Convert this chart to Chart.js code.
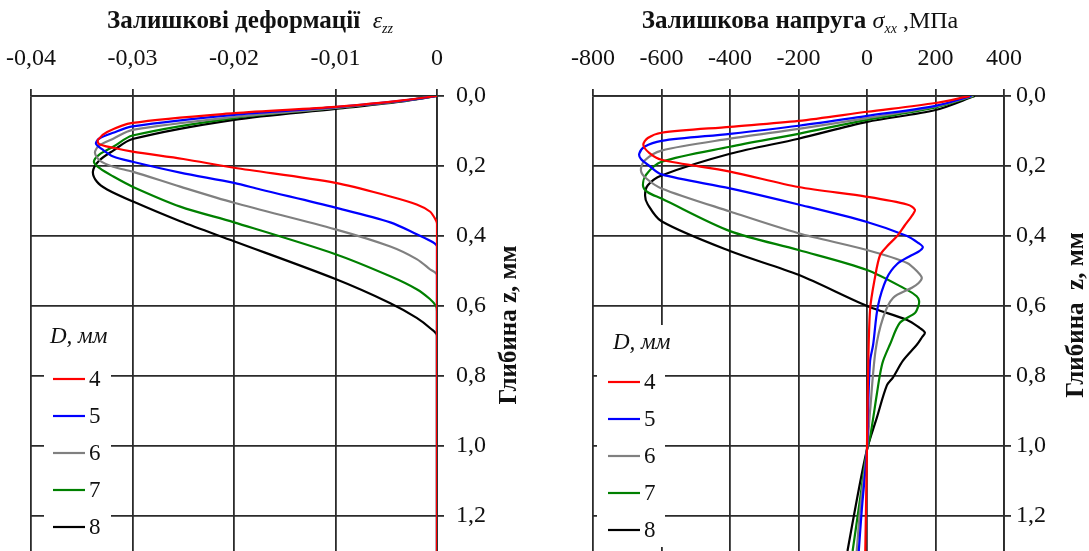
<!DOCTYPE html>
<html>
<head>
<meta charset="utf-8">
<script src="https://cdn.jsdelivr.net/npm/chart.js@4.4.1/dist/chart.umd.min.js"></script>
<style>
    body { margin: 0; background: #fff; }
    #wrap { position: relative; width: 1089px; height: 551px; overflow: hidden; }
    .panel { position: absolute; top: 0; height: 551px; }
</style>
</head>
<body>
<div id="wrap">
    <div class="panel" style="left:0;width:545px"><canvas id="strainChart"></canvas></div>
    <div class="panel" style="left:545px;width:544px"><canvas id="stressChart"></canvas></div>
</div>
<script>
// Ball diameters D, mm, and line colours
const diameters = ['4', '5', '6', '7', '8'];
const colors = ['#ff0000', '#0000ff', '#808080', '#008000', '#000000'];

// Residual strain eps_zz vs depth z (mm): [z, eps]
const eps4 = [[0, 0], [0.013, -0.0036], [0.031, -0.01], [0.049, -0.02], [0.077, -0.03], [0.103, -0.0325], [0.125, -0.0334], [0.137, -0.0333], [0.148, -0.0319], [0.159, -0.03], [0.18, -0.025], [0.205, -0.02], [0.248, -0.01], [0.287, -0.0046], [0.31, -0.002], [0.33, -0.0007], [0.35, -0.0002], [0.365, 0], [1.3, 0]];
const eps5 = [[0, 0], [0.014, -0.0036], [0.032, -0.01], [0.054, -0.02], [0.087, -0.03], [0.105, -0.0319], [0.122, -0.0333], [0.136, -0.0336], [0.152, -0.033], [0.173, -0.0319], [0.188, -0.03], [0.219, -0.0253], [0.248, -0.02], [0.267, -0.0174], [0.319, -0.01], [0.361, -0.0046], [0.395, -0.002], [0.418, -0.0004], [0.43, 0], [1.3, 0]];
const eps6 = [[0, 0], [0.015, -0.0036], [0.034, -0.01], [0.06, -0.02], [0.097, -0.03], [0.122, -0.0319], [0.142, -0.0333], [0.162, -0.0337], [0.185, -0.0332], [0.202, -0.0319], [0.216, -0.03], [0.259, -0.0253], [0.305, -0.02], [0.381, -0.01], [0.43, -0.0046], [0.466, -0.002], [0.495, -0.0007], [0.512, 0], [1.3, 0]];
const eps7 = [[0, 0], [0.015, -0.0036], [0.034, -0.01], [0.063, -0.02], [0.113, -0.03], [0.145, -0.0319], [0.168, -0.0333], [0.188, -0.0338], [0.207, -0.0332], [0.23, -0.0319], [0.259, -0.03], [0.316, -0.0253], [0.361, -0.02], [0.452, -0.01], [0.515, -0.0046], [0.552, -0.002], [0.58, -0.0007], [0.6, -0.0001], [0.615, 0], [1.3, 0]];
const eps8 = [[0, 0], [0.016, -0.0036], [0.037, -0.01], [0.068, -0.02], [0.123, -0.03], [0.156, -0.0319], [0.185, -0.0333], [0.216, -0.0339], [0.245, -0.0335], [0.267, -0.0325], [0.301, -0.03], [0.358, -0.0253], [0.415, -0.02], [0.523, -0.01], [0.592, -0.0046], [0.634, -0.002], [0.665, -0.0006], [0.685, 0], [1.3, 0]];

// Residual stress sigma_xx (MPa) vs depth z (mm): [z, sigma]
const sig4 = [[0, 300], [0.02, 200], [0.045, 0], [0.071, -200], [0.088, -400], [0.105, -600], [0.12, -640], [0.14, -653], [0.163, -635], [0.182, -600], [0.216, -400], [0.26, -200], [0.288, 0], [0.31, 117], [0.325, 140], [0.338, 134], [0.37, 110], [0.4, 88], [0.43, 58], [0.455, 38], [0.52, 23], [0.61, 9], [0.8, 3], [1.0, 0], [1.3, -5]];
const sig5 = [[0, 305], [0.028, 200], [0.057, 0], [0.085, -200], [0.108, -400], [0.128, -600], [0.145, -650], [0.165, -665], [0.18, -660], [0.2, -635], [0.224, -600], [0.264, -400], [0.31, -200], [0.36, 0], [0.4, 117], [0.42, 150], [0.432, 163], [0.445, 150], [0.457, 126], [0.48, 88], [0.52, 58], [0.6, 32], [0.71, 18], [0.757, 9], [0.9, 3], [1.01, 0], [1.18, -15], [1.3, -24]];
const sig6 = [[0, 310], [0.03, 200], [0.063, 0], [0.094, -200], [0.122, -400], [0.156, -600], [0.185, -650], [0.213, -660], [0.235, -645], [0.264, -600], [0.33, -400], [0.392, -200], [0.44, 0], [0.477, 117], [0.505, 150], [0.52, 160], [0.535, 150], [0.548, 131], [0.577, 76], [0.633, 47], [0.727, 25], [0.9, 9], [1.01, 0], [1.18, -20], [1.3, -30]];
const sig7 = [[0, 312], [0.033, 200], [0.068, 0], [0.108, -200], [0.145, -400], [0.188, -600], [0.225, -645], [0.256, -654], [0.275, -640], [0.293, -600], [0.386, -400], [0.44, -200], [0.497, 0], [0.554, 117], [0.572, 145], [0.585, 152], [0.6, 150], [0.62, 140], [0.648, 96], [0.71, 67], [0.757, 47], [0.795, 38], [0.85, 29], [0.975, 9], [1.01, 0], [1.15, -20], [1.3, -42]];
const sig8 = [[0, 315], [0.04, 200], [0.074, 0], [0.122, -200], [0.165, -400], [0.227, -600], [0.255, -640], [0.284, -648], [0.31, -640], [0.358, -600], [0.443, -400], [0.511, -200], [0.6, 0], [0.64, 117], [0.66, 150], [0.676, 169], [0.69, 160], [0.71, 146], [0.756, 105], [0.804, 76], [0.827, 58], [0.918, 29], [1.01, 0], [1.15, -29], [1.3, -57]];

// Axis ticks
const strainTicks = [-0.04, -0.03, -0.02, -0.01, 0];
const stressTicks = [-800, -600, -400, -200, 0, 200, 400];
const depthTicks = [0, 0.2, 0.4, 0.6, 0.8, 1.0, 1.2];
const depthMax = 1.3;

const SERIF = "'Liberation Serif', 'Times New Roman', serif";
const GRID = '#2b2b2b';

function toDatasets(series) {
    return series.map(function(pts, i) {
        return {
            label: diameters[i],
            data: pts.map(p => ({ x: p[1], y: p[0] })),
            showLine: true,
            borderColor: colors[i],
            borderWidth: 2.2,
            pointRadius: 0,
            tension: 0.3,
            fill: false
        };
    });
}

function depthLabel(v) {
    return v.toFixed(1).replace('.', ',');
}

// draws text runs (title with italic symbol and subscript) centred at cx
function drawRuns(ctx, runs, cx, y) {
    let total = 0;
    runs.forEach(function(r) { ctx.font = r.font; r.w = ctx.measureText(r.text).width; total += r.w; });
    let x = cx - total / 2;
    ctx.textAlign = 'left';
    ctx.textBaseline = 'alphabetic';
    runs.forEach(function(r) {
        ctx.font = r.font;
        ctx.fillText(r.text, x, y + (r.dy || 0));
        x += r.w;
    });
}

// titles, rotated depth label and the D, мм legend box
const decorPlugin = {
    id: 'decor',
    afterDraw(chart, args, opts) {
        const ctx = chart.ctx;
        ctx.save();
        ctx.fillStyle = '#111';
        drawRuns(ctx, opts.title, opts.titleX, 28);

        ctx.save();
        ctx.translate(opts.depthX, opts.depthY);
        ctx.rotate(-Math.PI / 2);
        ctx.font = 'bold 25px ' + SERIF;
        ctx.textAlign = 'center';
        ctx.textBaseline = 'middle';
        ctx.fillText(opts.depthText, 0, 0);
        ctx.restore();

        const lg = opts.legend;
        ctx.fillStyle = '#fff';
        ctx.fillRect(lg.x, lg.y, lg.w, lg.h);
        ctx.fillStyle = '#111';
        ctx.font = 'italic 23px ' + SERIF;
        ctx.textAlign = 'left';
        ctx.textBaseline = 'alphabetic';
        ctx.fillText('D, мм', lg.headX, lg.headY);
        diameters.forEach(function(d, i) {
            const yy = lg.firstY + i * lg.step;
            ctx.strokeStyle = colors[i];
            ctx.lineWidth = 2.2;
            ctx.beginPath();
            ctx.moveTo(lg.lineX, yy);
            ctx.lineTo(lg.lineX + 32, yy);
            ctx.stroke();
            ctx.fillStyle = '#111';
            ctx.font = '23px ' + SERIF;
            ctx.textBaseline = 'middle';
            ctx.fillText(d, lg.lineX + 36, yy + 1);
        });
        ctx.restore();
    }
};

function baseScales(xMin, xMax, xTicks, xFmt, xPad, yWidth, yPad) {
    return {
        x: {
            type: 'linear',
            position: 'top',
            min: xMin,
            max: xMax,
            afterBuildTicks: s => { s.ticks = xTicks.map(v => ({ value: v })); },
            afterFit: s => { s.height = 96; s.paddingLeft = 0; s.paddingRight = 0; },
            ticks: { callback: xFmt, font: { family: SERIF, size: 24 }, color: '#111', padding: xPad, maxRotation: 0 },
            grid: { color: GRID, lineWidth: 1.8, tickLength: 7 },
            border: { color: GRID, width: 1.8 }
        },
        y: {
            type: 'linear',
            position: 'right',
            reverse: true,
            min: 0,
            max: depthMax,
            afterBuildTicks: s => { s.ticks = depthTicks.map(v => ({ value: v })); },
            afterFit: s => { s.width = yWidth; s.paddingTop = 0; s.paddingBottom = 0; },
            ticks: { callback: depthLabel, font: { family: SERIF, size: 24 }, color: '#111', padding: yPad },
            grid: { color: GRID, lineWidth: 1.8, tickLength: 7 },
            border: { color: GRID, width: 1.8 }
        }
    };
}

new Chart(document.getElementById('strainChart'), {
    type: 'scatter',
    data: { datasets: toDatasets([eps4, eps5, eps6, eps7, eps8]) },
    options: {
        responsive: true,
        maintainAspectRatio: false,
        animation: false,
        layout: { padding: { left: 31, right: 0, top: 0, bottom: 0 } },
        scales: baseScales(-0.04, 0, strainTicks,
            v => Math.abs(v) < 1e-9 ? '0' : v.toFixed(2).replace('.', ','), 16, 108, 12),
        plugins: {
            legend: { display: false },
            tooltip: { enabled: false },
            decor: {
                title: [
                    { text: 'Залишкові деформації  ', font: 'bold 25px ' + SERIF },
                    { text: 'ε', font: 'italic 24px ' + SERIF },
                    { text: 'zz', font: 'italic 14px ' + SERIF, dy: 5 }
                ],
                titleX: 250,
                depthText: 'Глибина z, мм',
                depthX: 510,
                depthY: 325,
                legend: { x: 44, y: 318, w: 67, h: 233, headX: 50, headY: 343, lineX: 53, firstY: 379, step: 37 }
            }
        }
    },
    plugins: [decorPlugin]
});

new Chart(document.getElementById('stressChart'), {
    type: 'scatter',
    data: { datasets: toDatasets([sig4, sig5, sig6, sig7, sig8]) },
    options: {
        responsive: true,
        maintainAspectRatio: false,
        animation: false,
        layout: { padding: { left: 48, right: 0, top: 0, bottom: 0 } },
        scales: baseScales(-800, 400, stressTicks, v => String(v), 16, 85, 5),
        plugins: {
            legend: { display: false },
            tooltip: { enabled: false },
            decor: {
                title: [
                    { text: 'Залишкова напруга ', font: 'bold 25px ' + SERIF },
                    { text: 'σ', font: 'italic 24px ' + SERIF },
                    { text: 'xx', font: 'italic 14px ' + SERIF, dy: 5 },
                    { text: ' ,МПа', font: '24px ' + SERIF }
                ],
                titleX: 255,
                depthText: 'Глибина  z, мм',
                depthX: 532,
                depthY: 315,
                legend: { x: 52, y: 325, w: 68, h: 222, headX: 68, headY: 349, lineX: 63, firstY: 382, step: 37 }
            }
        }
    },
    plugins: [decorPlugin]
});
</script>
</body>
</html>
